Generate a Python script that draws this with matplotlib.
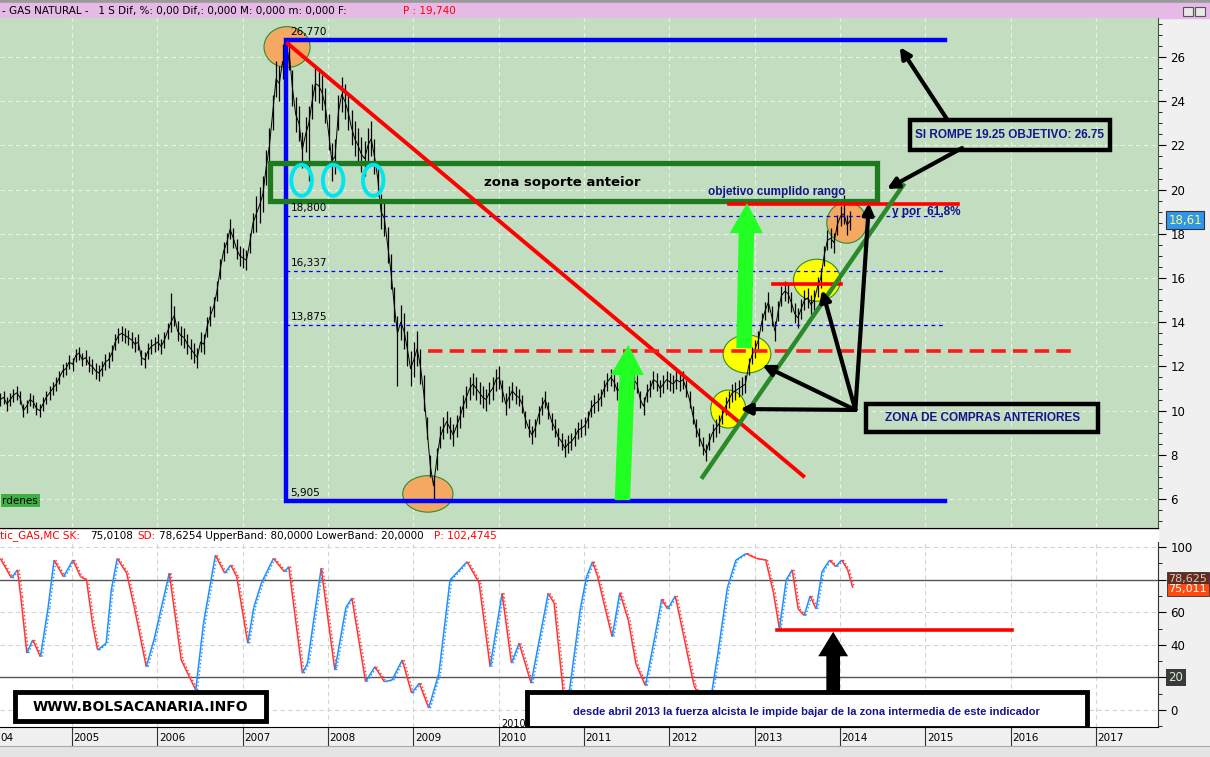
import numpy as np
import matplotlib.pyplot as plt
from matplotlib.patches import Ellipse, Rectangle, FancyArrow
from matplotlib.collections import LineCollection
from matplotlib.ticker import MultipleLocator
import matplotlib.transforms as mtransforms

plt.rcParams['font.family'] = ['DejaVu Sans']

W, H = 1210, 757

# ---------------- price data (2-weekly bars) ----------------
start_year = 2004.16
bars_per_year = 26
close = [
    10.5, 10.6, 10.3, 10.5, 10.7, 10.8, 10.6, 10.0, 10.2, 10.5, 10.4, 10.1, 10.0,
    10.3, 10.6, 10.8, 11.0, 11.2, 11.5, 11.8, 11.9, 12.2, 12.1, 12.5, 12.6, 12.3,
    12.4, 12.1, 12.0, 11.8, 11.7, 11.9, 12.2, 12.3, 12.6, 13.1, 13.4, 13.5, 13.4,
    13.3, 13.2, 13.0, 13.1, 12.4, 12.3, 12.7, 12.9, 13.0, 13.1, 12.9, 13.2, 13.6,
    14.0, 14.3, 13.6, 13.4, 13.3, 13.0, 12.8, 12.6, 12.4, 13.1, 13.0, 13.8, 14.3,
    14.7, 15.4, 16.4, 17.2, 17.6, 18.2, 17.8, 17.3, 17.0, 16.9, 16.8, 17.6, 18.5,
    18.9, 19.3, 19.8, 21.0, 22.0, 23.5, 25.0, 24.8, 25.8, 25.0, 26.2, 24.6, 23.4,
    23.0, 21.8, 22.5, 23.0, 24.0, 24.8, 24.7, 24.4, 23.8, 22.6, 21.3, 21.5, 23.5,
    24.3, 24.0, 23.5, 22.8, 22.3, 22.0, 21.6, 21.4, 22.0, 22.3, 21.5, 20.5, 19.0,
    18.7, 17.5, 16.3, 14.8, 13.5, 14.0, 13.6, 12.8, 11.9, 12.3, 12.8, 12.0, 10.8,
    9.2, 7.5, 6.6, 7.8, 8.8, 9.2, 9.5, 9.2, 8.9, 9.3, 9.7, 10.2, 10.6,
    11.0, 11.2, 11.0, 10.8, 10.6, 10.5, 10.8, 11.0, 11.4, 11.5, 10.9, 10.3, 10.6,
    10.9, 10.7, 10.6, 10.3, 9.6, 9.2, 8.9, 9.2, 9.8, 10.2, 10.5, 10.0, 9.5,
    9.2, 8.8, 8.6, 8.3, 8.5, 8.6, 8.8, 9.1, 9.2, 9.3, 9.6, 10.1, 10.3,
    10.4, 10.6, 11.0, 11.3, 11.5, 11.3, 10.9, 11.0, 11.3, 11.4, 11.5, 11.4, 11.2,
    10.5, 10.2, 10.8, 11.0, 11.4, 11.3, 11.0, 11.2, 11.4, 11.3, 11.2, 11.4, 11.3,
    11.4, 11.0, 10.5, 9.8, 9.2, 8.8, 8.4, 8.1, 8.6, 9.0, 9.2, 9.4, 9.8,
    10.2, 10.5, 10.8, 10.9, 11.0, 11.1, 11.2, 12.0, 12.5, 12.8, 13.2, 14.0, 14.5,
    14.9, 14.3, 13.6, 14.5, 15.2, 15.4, 15.3, 14.9, 14.4, 14.2, 14.6, 15.0, 15.1,
    14.8, 15.0, 15.6, 16.0, 17.0, 17.7, 17.8, 17.6, 18.4, 18.8, 18.9, 18.4, 18.6,
]
half_range = [0.3, 0.35, 0.45, 0.8, 0.8, 0.5, 0.4, 0.4, 0.4, 0.45]
spike_bar = [52, 88, 94, 101, 121, 132, 257]
spike_price = [15.3, 26.77, 20.4, 20.4, 11.1, 5.905, 19.74]

# ---------------- stochastic %K ----------------
stoch_t = [
    2004.16, 2004.29, 2004.36, 2004.40, 2004.47, 2004.54, 2004.63, 2004.72, 2004.79,
    2004.90, 2005.01, 2005.10, 2005.17, 2005.24, 2005.30, 2005.40, 2005.46, 2005.53,
    2005.64, 2005.73, 2005.87, 2005.96, 2006.14, 2006.28, 2006.45, 2006.54, 2006.68,
    2006.79, 2006.86, 2006.93, 2007.06, 2007.13, 2007.22, 2007.36, 2007.49, 2007.54,
    2007.70, 2007.76, 2007.92, 2008.08, 2008.21, 2008.28, 2008.44, 2008.55, 2008.66,
    2008.75, 2008.87, 2008.98, 2009.07, 2009.18, 2009.30, 2009.43, 2009.52, 2009.63,
    2009.77, 2009.90, 2010.04, 2010.15, 2010.24, 2010.38, 2010.58, 2010.65, 2010.76,
    2010.83, 2010.96, 2011.03, 2011.10, 2011.16, 2011.25, 2011.33, 2011.42, 2011.52,
    2011.61, 2011.72, 2011.83, 2011.91, 2011.98, 2012.07, 2012.17, 2012.29, 2012.40,
    2012.48, 2012.57, 2012.68, 2012.78, 2012.90, 2013.02, 2013.13, 2013.22, 2013.29,
    2013.37, 2013.44, 2013.51, 2013.58, 2013.65, 2013.72, 2013.79, 2013.88, 2013.95,
    2014.02, 2014.09, 2014.15,
]
stoch_k = [
    93, 81, 86, 69.5, 35, 43, 32.7, 63, 92,
    81.8, 92, 81.8, 79.8, 53, 36.8, 41, 73.6, 93,
    84, 63, 26.6, 43, 84, 30.7, 12.3, 53, 95,
    84, 89, 81.8, 41, 63, 78, 93, 84.8, 88,
    22.6, 28.8, 87, 24.5, 63, 68.7, 17.4, 26.6, 17.4,
    18.4, 30.7, 10.4, 16.5, 1.2, 22.6, 79.8, 84.8, 91,
    78, 26.6, 71.6, 28.8, 41, 16.5, 71.6, 65.6, 9.2,
    12.3, 63, 81.8, 91, 81.8, 62, 45, 72, 55,
    28, 15, 45, 68, 62, 70, 45, 15, 3,
    5, 35, 75, 92, 96, 93, 92, 72, 50,
    80, 86, 62, 58, 70, 62, 85, 92, 88,
    92, 86, 75,
]

# ---------------- annotation levels (data units) ----------------
range_top, range_bottom = 26.77, 5.905
range_x0, range_x1 = 2007.51, 2015.23
fib_levels = [18.8, 16.337, 13.875]
fib_labels = ['18,800', '16,337', '13,875']
zone_x0, zone_x1, zone_lo, zone_hi = 2007.32, 2014.43, 19.48, 21.2
dash_level, dash_x0, dash_x1 = 12.7, 2009.17, 2016.79
years = list(range(2004, 2018))

# ---------------- figure / axes (pixel layout) ----------------
fig = plt.figure(figsize=(W / 100, H / 100), dpi=100, facecolor='#f0f0f0')


def fig_rect(x0, y0, x1, y1):
    return [x0 / W, 1 - y1 / H, (x1 - x0) / W, (y1 - y0) / H]


bg = fig.add_axes([0, 0, 1, 1], zorder=-1)
bg.set_xlim(0, W)
bg.set_ylim(H, 0)
bg.axis('off')
bg.add_patch(Rectangle((0, 0), W, 3, color='#9a9a9a'))
bg.add_patch(Rectangle((0, 3), W, 15, color='#e6b9e6'))
bg.add_patch(Rectangle((0, 528), 1158, 14, color='white'))
bg.plot([0, 1158], [528, 528], color='black', lw=1)
bg.add_patch(Rectangle((0, 747), W, 10, color='#e4e4e4'))
bg.add_patch(Rectangle((1183, 7), 10, 9, fc='#e8e8e8', ec='#555555', lw=0.8))
bg.add_patch(Rectangle((1195, 7), 10, 9, fc='#e8e8e8', ec='#555555', lw=0.8))

fig.text(2 / W, 1 - 11 / H,
         '- GAS NATURAL -   1 S Dif, %: 0,00 Dif,: 0,000 M: 0,000 m: 0,000 F:',
         fontsize=7.5, va='center', ha='left', color='black')
fig.text(403 / W, 1 - 11 / H, 'P : 19,740', fontsize=7.5, va='center', color='red')

sy = 1 - 536 / H
for xp, s, c in [(0, 'tic_GAS,MC SK:', 'red'), (90, '75,0108', 'black'),
                 (137, 'SD:', 'red'),
                 (159, '78,6254 UpperBand: 80,0000 LowerBand: 20,0000', 'black'),
                 (434, 'P: 102,4745', 'red')]:
    fig.text(xp / W, sy, s, fontsize=7.5, va='center', ha='left', color=c)

# ---------------- main price panel ----------------
ax = fig.add_axes(fig_rect(0, 18, 1158, 527))
ax.set_facecolor('#c3ddc0')
ax.set_xlim(2004.156, 2004.156 + 1158 / 85.33)
ax.set_ylim(6 - 28 / 22.1, 6 + 481 / 22.1)
for s in ['top', 'left', 'bottom']:
    ax.spines[s].set_visible(False)
ax.spines['right'].set_color('#3a5a3a')
ax.yaxis.tick_right()
ax.set_yticks(range(6, 27, 2))
ax.yaxis.set_minor_locator(MultipleLocator(0.5))
ax.tick_params(axis='y', which='major', length=6, labelsize=8.5, pad=3)
ax.tick_params(axis='y', which='minor', length=3)
ax.tick_params(axis='x', bottom=False, labelbottom=False)

for yv in years[1:]:
    ax.axvline(yv, color='#e9f2e7', lw=0.8, ls=(0, (4, 3)), zorder=0.5)
for pv in range(6, 28, 2):
    ax.axhline(pv, color='#e9f2e7', lw=0.8, ls=(0, (4, 3)), zorder=0.5)

# circles under the bars
for cx, cy, w, h in [(2007.52, 26.45, 0.54, 1.85), (2009.17, 6.23, 0.59, 1.65),
                     (2014.08, 18.5, 0.47, 1.85)]:
    ax.add_patch(Ellipse((cx, cy), w, h, fc='#f5a862', ec='#2e8b2e', lw=0.8, zorder=1.5))
for cx, cy, w, h in [(2012.69, 10.07, 0.41, 1.72), (2012.91, 12.56, 0.56, 1.72),
                     (2013.73, 15.9, 0.55, 1.9)]:
    ax.add_patch(Ellipse((cx, cy), w, h, fc='#ffff00', ec='#2e8b2e', lw=0.8, zorder=1.5))

# price bars
close_arr = np.array(close)
n = len(close_arr)
t = start_year + np.arange(n) / bars_per_year
hr = np.repeat(half_range, bars_per_year)[:n]
hi = close_arr + hr
lo = close_arr - hr
for b, p in zip(spike_bar, spike_price):
    if p > close_arr[b]:
        hi[b] = p
    else:
        lo[b] = p
ax.vlines(t, lo, hi, color='black', lw=0.9, zorder=2)
ax.plot(t, close_arr, color='black', lw=0.7, zorder=2)

# range box and fibonacci levels
ax.plot([range_x1, range_x0, range_x0, range_x1],
        [range_top, range_top, range_bottom, range_bottom],
        color='#0000ff', lw=3.2, zorder=3, solid_joinstyle='miter')
for lv in fib_levels:
    ax.plot([range_x0, range_x1], [lv, lv], color='#0000ff', lw=0.9,
            ls=(0, (3, 3)), zorder=2.5)
for lv, lab in zip([range_top] + fib_levels + [range_bottom],
                   ['26,770'] + fib_labels + ['5,905']):
    ax.annotate(lab, (range_x0, lv), xytext=(3, 2), textcoords='offset points',
                fontsize=7.5, va='bottom', ha='left', zorder=4)

# support zone
ax.add_patch(Rectangle((zone_x0, zone_lo), zone_x1 - zone_x0, zone_hi - zone_lo,
                       fill=False, ec='#1e7a1e', lw=3.8, zorder=3))
for cx in [2007.69, 2008.06, 2008.53]:
    ax.add_patch(Ellipse((cx, 20.42), 0.24, 1.4, fill=False, ec='#00e5ee', lw=2.8,
                         zorder=3.5))
ax.text(2010.75, 20.3, 'zona soporte anteior', fontsize=9.5, fontweight='bold',
        ha='center', va='center', zorder=4)

# trend lines
ax.plot([2007.53, 2013.57], [26.6, 7.04], color='#ff0000', lw=2.8, zorder=3)
ax.plot([dash_x0, dash_x1], [dash_level, dash_level], color='#ff1a1a', lw=2.6,
        ls=(0, (4, 2)), zorder=3)
ax.plot([2012.70, 2015.38], [19.35, 19.35], color='#ff0000', lw=2.6, zorder=3)
ax.plot([2013.21, 2014.01], [15.75, 15.75], color='#ff0000', lw=2.6, zorder=3)
ax.plot([2012.39, 2014.74], [7.0, 20.2], color='#2a8a2a', lw=3.2, zorder=3)

# green target arrows
for x0, y0, x1, y1 in [(2011.45, 5.95, 2011.52, 12.97),
                       (2012.875, 12.83, 2012.91, 19.39)]:
    ax.add_patch(FancyArrow(x0, y0, x1 - x0, y1 - y0, width=0.18, head_width=0.39,
                            head_length=1.36, length_includes_head=True,
                            color='#22ff22', lw=0, zorder=4))

# black arrows
arrow_kw = dict(arrowstyle='-|>', color='black', lw=3, mutation_scale=16,
                shrinkA=0, shrinkB=0)
for hx, hy in [(2012.83, 10.07), (2013.09, 12.06), (2013.79, 15.46), (2014.34, 19.39)]:
    ax.annotate('', xy=(hx, hy), xytext=(2014.18, 10.03), arrowprops=arrow_kw, zorder=5)
ax.annotate('', xy=(2014.70, 26.45), xytext=(2015.26, 23.15), arrowprops=arrow_kw, zorder=5)
ax.annotate('', xy=(2014.55, 20.03), xytext=(2015.43, 21.88), arrowprops=arrow_kw, zorder=5)

# text boxes
ax.add_patch(Rectangle((2014.82, 21.79), 2.34, 1.36, fill=False, ec='black', lw=3.2,
                       zorder=5))
ax.text(2015.99, 22.47, 'SI ROMPE 19.25 OBJETIVO: 26.75', fontsize=8.5,
        fontweight='bold', color='#14148c', family='Liberation Sans',
        ha='center', va='center', zorder=5)
ax.add_patch(Rectangle((2014.31, 9.03), 2.71, 1.27, fill=False, ec='black', lw=3.2,
                       zorder=5))
ax.text(2015.665, 9.66, 'ZONA DE COMPRAS ANTERIORES', fontsize=8.5,
        fontweight='bold', color='#14148c', family='Liberation Sans',
        ha='center', va='center', zorder=5)
ax.text(2013.26, 19.89, 'objetivo cumplido rango', fontsize=8.5, fontweight='bold',
        color='#14148c', family='Liberation Sans', ha='center', va='center', zorder=5)
ax.text(2014.61, 18.99, 'y por  61,8%', fontsize=8.5, fontweight='bold',
        color='#14148c', family='Liberation Sans', ha='left', va='center', zorder=5)
ax.text(0.002, 0.052, 'rdenes', transform=ax.transAxes, fontsize=7.5, va='center',
        ha='left', bbox=dict(boxstyle='square,pad=0.15', fc='#3cb043', ec='none'))

blend = mtransforms.blended_transform_factory(ax.transAxes, ax.transData)
ax.text(1.009, 18.61, '18,61', transform=blend, fontsize=8.5, color='#ffff66',
        va='center', ha='left', clip_on=False,
        bbox=dict(boxstyle='square,pad=0.2', fc='#2f96f0', ec='#333333', lw=0.8))

# ---------------- stochastic panel ----------------
ax2 = fig.add_axes(fig_rect(0, 542, 1158, 727))
ax2.set_facecolor('white')
ax2.set_xlim(ax.get_xlim())
ax2.set_ylim(-10.4, 103.1)
for s in ['top', 'left']:
    ax2.spines[s].set_visible(False)
ax2.spines['right'].set_color('#333333')
ax2.spines['bottom'].set_color('black')
ax2.yaxis.tick_right()
ax2.set_yticks([0, 20, 40, 60, 80, 100])
ax2.set_yticklabels(['0', '', '40', '60', '', '100'])
ax2.yaxis.set_minor_locator(MultipleLocator(10))
ax2.tick_params(axis='y', which='major', length=6, labelsize=8.5, pad=3)
ax2.tick_params(axis='y', which='minor', length=3)
ax2.tick_params(axis='x', bottom=False, labelbottom=False)
for yv in years[1:]:
    ax2.axvline(yv, color='#d4d4d4', lw=0.8, ls=(0, (4, 3)), zorder=0.5)
for lv in [0, 40, 60, 100]:
    ax2.axhline(lv, color='#d4d4d4', lw=0.8, ls=(0, (4, 3)), zorder=0.5)
for lv in [20, 80]:
    ax2.axhline(lv, color='#555555', lw=1, zorder=0.8)

st = np.array(stoch_t)
sk = np.array(stoch_k)


def stoch_line(tt, vv, ls, lw):
    pts = np.column_stack([tt, vv])
    segs = np.stack([pts[:-1], pts[1:]], axis=1)
    cols = ['#1f8fff' if b > a else '#ff3535' for a, b in zip(vv[:-1], vv[1:])]
    ax2.add_collection(LineCollection(segs, colors=cols, linewidths=lw,
                                      linestyles=ls, zorder=2))


stoch_line(st + 0.02, sk, ':', 1.0)
stoch_line(st, sk, '-', 1.1)

ax2.plot([2013.26, 2016.02], [49.1, 49.1], color='#ff0000', lw=2.6, zorder=3)
ax2.add_patch(FancyArrow(2013.92, 8, 0, 40, width=0.16, head_width=0.35,
                         head_length=15, length_includes_head=True,
                         color='black', lw=0, zorder=4))

ax2.add_patch(Rectangle((2004.33, -6.75), 2.94, 17.75, fc='white', ec='black', lw=3.5,
                        zorder=5))
ax2.text(2005.80, 2.1, 'WWW.BOLSACANARIA.INFO', fontsize=10, fontweight='bold',
         ha='center', va='center', zorder=6)
ax2.add_patch(Rectangle((2010.33, -11), 6.56, 22, fc='white', ec='black', lw=3.5,
                        zorder=5))
ax2.text(2013.61, -1.4,
         'desde abril 2013 la fuerza alcista le impide bajar de la zona intermedia de este indicador',
         fontsize=8, fontweight='bold', color='#14148c', family='Liberation Sans',
         ha='center', va='center', zorder=6)
ax2.text(2010.03, -8.6, '2010', fontsize=7, ha='left', va='center', zorder=6)

blend2 = mtransforms.blended_transform_factory(ax2.transAxes, ax2.transData)
ax2.text(1.009, 20, '20', transform=blend2, fontsize=8.5, color='#d8f0d0',
         va='center', ha='left', clip_on=False,
         bbox=dict(boxstyle='square,pad=0.2', fc='#3a3a3a', ec='none'))
ax2.text(1.009, 80.5, '78,625', transform=blend2, fontsize=8, color='#cccccc',
         va='center', ha='left', clip_on=False,
         bbox=dict(boxstyle='square,pad=0.15', fc='#6a2a1a', ec='#333333', lw=0.6))
ax2.text(1.009, 74.0, '75,011', transform=blend2, fontsize=8, color='white',
         va='center', ha='left', clip_on=False,
         bbox=dict(boxstyle='square,pad=0.15', fc='#ff4a10', ec='#333333', lw=0.6))

# ---------------- time axis strip ----------------
ax3 = fig.add_axes(fig_rect(0, 728, 1158, 746))
ax3.set_xlim(ax.get_xlim())
ax3.set_ylim(0, 1)
ax3.axis('off')
for yv in years[1:]:
    ax3.plot([yv, yv], [0, 1], color='#333333', lw=0.8)
    ax3.text(yv + 0.02, 0.45, str(yv), fontsize=7.5, ha='left', va='center')
# 2004 tick lies left of the visible area: only its last digits show
ax3.text(0.0, 0.45, '04', transform=ax3.transAxes, fontsize=7.5, ha='left',
         va='center')
bg.plot([0, W], [746, 746], color='#a8a8a8', lw=0.8)

fig.savefig('out.png', dpi=100, facecolor=fig.get_facecolor())
